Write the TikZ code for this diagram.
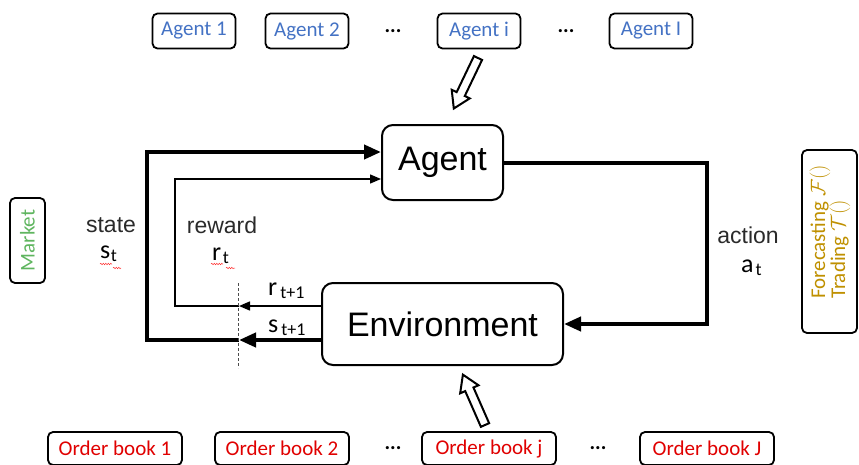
\documentclass[tikz,border=0pt]{standalone}
\usepackage{fontspec}
\setmainfont{Carlito}
\newfontfamily\helv{Liberation Sans}
\usetikzlibrary{arrows.meta,decorations.pathmorphing}
\definecolor{agblue}{HTML}{4472C4}
\definecolor{obred}{HTML}{E00000}
\definecolor{mkgreen}{HTML}{5FB55F}
\definecolor{fcgold}{HTML}{BF9000}
\definecolor{lblgray}{HTML}{2A2A2A}
\newcommand{\symsub}[3]{{\fontsize{26}{26}\selectfont #1}\kern#3\raisebox{-3.5pt}{\fontsize{18}{18}\selectfont #2}}
\begin{document}
\begin{tikzpicture}[x=1pt,y=-1pt,
  cal/.style={font=\fontsize{21}{24}\selectfont},
  smallbox/.style={draw, rounded corners=5pt, line width=1.8pt, minimum height=35pt, inner sep=0pt, cal},
  agentbox/.style={smallbox, text=agblue, minimum width=83pt},
  bookbox/.style={smallbox, text=obred, minimum width=134pt, minimum height=33pt},
  dots/.style={font=\fontsize{21}{24}\selectfont\bfseries},
  bigbox/.style={draw, rounded corners=11pt, line width=2pt, inner sep=0pt, font=\helv\fontsize{34}{36}\selectfont},
  lbl/.style={font=\helv\fontsize{23}{26}\selectfont, text=lblgray},
  heavy/.style={line width=4pt},
  light/.style={line width=1.4pt},
  bigtip/.style={-{Triangle[length=17pt,width=14pt]}},
  smalltip/.style={-{Triangle[length=11pt,width=9pt]}},
  hollow/.style={draw, line width=2pt, fill=white, line join=miter},
  squiggle/.style={red!80, line width=0.5pt, decorate, decoration={snake, amplitude=0.7pt, segment length=2.5pt}}
]
\useasboundingbox (0,0) rectangle (859,464);

% top agents
\node[agentbox] (a1) at (194,31) {Agent 1};
\node[agentbox] (a2) at (307,31) {Agent 2};
\node[dots] (d1) at (393,31) {...};
\node[agentbox] (ai) at (479,31) {Agent i};
\node[dots] (d2) at (566,31) {...};
\node[agentbox] (aI) at (651,31) {Agent I};

% order books
\node[bookbox] (o1) at (115,448.5) {Order book 1};
\node[bookbox] (o2) at (282,448.5) {Order book 2};
\node[dots] (d3) at (393,448) {...};
\node[bookbox] (oj) at (489,448.5) {Order book j};
\node[dots] (d4) at (598,448) {...};
\node[bookbox] (oJ) at (707,448.5) {Order book J};

% side boxes
\node[smallbox, rotate=90, minimum width=85pt, minimum height=35pt, text=mkgreen] (mk) at (27.5,240.5) {Market};
\node[smallbox, rotate=90, minimum width=183pt, minimum height=55pt] (fc) at (829.5,241.5) {};
\node[rotate=90, cal, text=fcgold, align=left, inner sep=0pt] (fct) at (830,232) {Forecasting $\mathcal{F}()$\\[-4pt]Trading $\mathcal{T}()$};

% main boxes
\node[bigbox, minimum width=121pt, minimum height=75pt] (ag) at (442.5,162.5) {Agent};
\node[bigbox, minimum width=241pt, minimum height=82pt] (env) at (442.5,324) {Environment};

% coordinates
\coordinate (dS) at (239,340);
\coordinate (dR) at (239,306);
\coordinate (sL) at (147,340);
\coordinate (sT) at (147,152);
\coordinate (rL) at (175,306);
\coordinate (rT) at (175,179);
\coordinate (aC) at (707,240);
\coordinate (dashTop) at (238,283);
\coordinate (dashBot) at (238,368);

% state loop
\draw[heavy, bigtip] (dS) -- (sL) -- (sT) -- ([yshift=10.5pt]ag.west);
\draw[heavy, bigtip] ([yshift=-16pt]env.west) -- (dS);
% reward loop
\draw[light, smalltip] (dR) -- (rL) -- (rT) -- ([yshift=-16.5pt]ag.west);
\draw[light, smalltip] ([yshift=18pt]env.west) -- (dR);
% action
\draw[heavy, bigtip] (ag.east) -| (aC) |- (env.east);
% dashed
\draw[line width=0.9pt, dash pattern=on 3pt off 2pt, black!70] (dashTop) -- (dashBot);

% labels
\node[lbl] (state) at (111,225) {state};
\node[anchor=base west, inner sep=0pt] (st) at (100,258) {\symsub{s}{t}{0.5pt}};
\node[lbl] (reward) at (222,225) {reward};
\node[anchor=base west, inner sep=0pt] (rt) at (212,260) {\symsub{r}{t}{1.5pt}};
\node[lbl] (action) at (748,235) {action};
\node[anchor=base west, inner sep=0pt] (at) at (741,272) {\symsub{a}{t}{2pt}};
\node[anchor=base west, inner sep=0pt] (r1) at (268,295) {\symsub{r}{t+1}{3pt}};
\node[anchor=base west, inner sep=0pt] (s1) at (268,332) {\symsub{s}{t+1}{3pt}};

% spell-check squiggles
\draw[squiggle] (100,264) -- (112,264);
\draw[squiggle] (113,268) -- (121,268);
\draw[squiggle] (211,264) -- (223,264);
\draw[squiggle] (226,268) -- (235,268);

% hollow arrows
\coordinate (ha1) at (478,58);
\coordinate (ha2) at (485,425);
\begin{scope}[shift={(ha1)}, rotate=244.4]
\draw[hollow] (0pt,-4.5pt) -- (40pt,-4.5pt) -- (40pt,-10pt) -- (56pt,0pt) -- (40pt,10pt) -- (40pt,4.5pt) -- (0pt,4.5pt) -- cycle;
\end{scope}
\begin{scope}[shift={(ha2)}, rotate=113.7]
\draw[hollow] (0pt,-4.5pt) -- (39pt,-4.5pt) -- (39pt,-10pt) -- (55pt,0pt) -- (39pt,10pt) -- (39pt,4.5pt) -- (0pt,4.5pt) -- cycle;
\end{scope}
\end{tikzpicture}
\end{document}
